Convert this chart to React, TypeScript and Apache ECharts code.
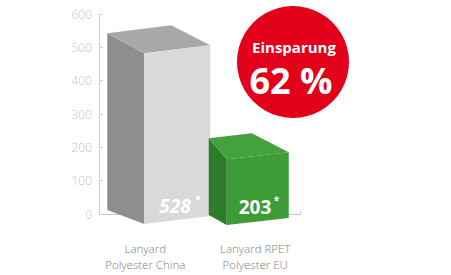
import React, { useEffect, useRef } from "react";
import * as echarts from "echarts";

const categories = ["Lanyard\nPolyester China", "Lanyard RPET\nPolyester EU"];
const values = [528, 203];
const yTicks = { min: 0, max: 600, interval: 100 };
const badgeTitle = "Einsparung";

// per-bar pseudo-3D geometry (style only)
const BOX = [
  { fl: -5, fr: 61, skew: 8, drop: 10, blDx: -37, blDyB: -14, blDyT: -20, brDx: -39, brDy: -20,
    front: "#d9d9d9", left: "#8e8e8e", top: "#a8a8a8", italic: true, tx: 15, sx: 51 },
  { fl: -23, fr: 39, skew: 7, drop: 11, blDx: -18, blDyB: -10, blDyT: -21, brDx: -37, brDy: -19,
    front: "#3d9c36", left: "#2d7c29", top: "#43a23b", italic: false, tx: 12, sx: 47 },
];

const FONT = '"Open Sans", "Noto Sans", sans-serif';

export default function App() {
  const ref = useRef<HTMLDivElement>(null);
  useEffect(() => {
    document.body.style.margin = "0";
    const chart = echarts.init(ref.current!, undefined, { renderer: "svg" });
    const saving = Math.round((1 - values[1] / values[0]) * 100);
    chart.setOption({
      animation: false,
      backgroundColor: "#ffffff",
      grid: { left: 99, right: 151, top: 14, bottom: 61 },
      xAxis: {
        type: "category",
        data: categories,
        axisLine: { lineStyle: { color: "#c4c4c4", width: 1 } },
        axisTick: { show: true, inside: true, length: 3, lineStyle: { color: "#c4c4c4" } },
        axisLabel: {
          margin: 26,
          interval: 0,
          formatter: (val: string, idx: number) => {
            const key = idx === 0 ? "a" : "b";
            return val.split("\n").map((l) => `{${key}|${l}}`).join("\n");
          },
          rich: {
            a: { color: "#7c7c7c", fontSize: 11.5, fontWeight: 300, fontFamily: FONT, lineHeight: 16, padding: [0, 8, 0, 0] },
            b: { color: "#7c7c7c", fontSize: 11.5, fontWeight: 300, fontFamily: FONT, lineHeight: 16, padding: [0, 0, 0, 11] },
          },
        },
      },
      yAxis: {
        type: "value",
        min: yTicks.min,
        max: yTicks.max,
        interval: yTicks.interval,
        splitLine: { show: false },
        axisLine: { show: true, lineStyle: { color: "#d0d0d0" } },
        axisTick: { show: true, inside: true, length: 4, lineStyle: { color: "#d0d0d0" } },
        axisLabel: { color: "#c4c4c4", fontSize: 12, fontWeight: 300, fontFamily: FONT, margin: 7 },
      },
      series: [
        {
          type: "custom",
          data: values.map((v, i) => [i, v]),
          renderItem: (params: any, api: any) => {
            const i = api.value(0);
            const v = api.value(1);
            const base = api.coord([i, 0]);
            const top = api.coord([i, v]);
            const H = (base[1] - top[1]) * 0.97;
            const g = BOX[i];
            const cx = base[0];
            const by = base[1];
            const fl = cx + g.fl;
            const fr = cx + g.fr;
            const fbl = by + g.drop;
            const fbr = fbl - g.skew;
            const ftl = fbl - H;
            const ftr = fbr - H;
            const blx = fl + g.blDx;
            const blb = fbl + g.blDyB;
            const blt = ftl + g.blDyT;
            const brx = fr + g.brDx;
            const bry = ftr + g.brDy;
            return {
              type: "group",
              children: [
                { type: "polygon", shape: { points: [[fl, fbl], [fl, ftl], [blx, blt], [blx, blb]] }, style: { fill: g.left } },
                { type: "polygon", shape: { points: [[fl, ftl], [fr, ftr], [brx, bry], [blx, blt]] }, style: { fill: g.top } },
                { type: "polygon", shape: { points: [[fl, fbl], [fr, fbr], [fr, ftr], [fl, ftl]] }, style: { fill: g.front } },
                {
                  type: "text",
                  style: {
                    text: String(values[i]),
                    x: fl + g.tx,
                    y: fbl - 18,
                    fill: "#ffffff",
                    font: `${g.italic ? "italic " : ""}bold 19px ${FONT}`,
                    align: "left",
                    verticalAlign: "middle",
                  },
                },
                {
                  type: "text",
                  style: {
                    text: "*",
                    x: fl + g.sx,
                    y: fbl - 25,
                    fill: "#ffffff",
                    font: `bold 10px ${FONT}`,
                    align: "left",
                    verticalAlign: "middle",
                  },
                },
              ],
            };
          },
        },
      ],
      graphic: [
        { type: "circle", shape: { cx: 293, cy: 62, r: 56 }, style: { fill: "#e3001b" } },
        {
          type: "text",
          style: { text: badgeTitle, x: 294, y: 47, fill: "#ffffff", font: `bold 15px ${FONT}`, lineHeight: 16, align: "center", verticalAlign: "middle" },
        },
        {
          type: "text",
          style: { text: `${saving} %`, x: 291, y: 80, fill: "#ffffff", font: `bold 36px ${FONT}`, lineHeight: 36, align: "center", verticalAlign: "middle" },
        },
      ],
    });
    return () => chart.dispose();
  }, []);
  return <div ref={ref} style={{ width: 451, height: 275 }} />;
}
